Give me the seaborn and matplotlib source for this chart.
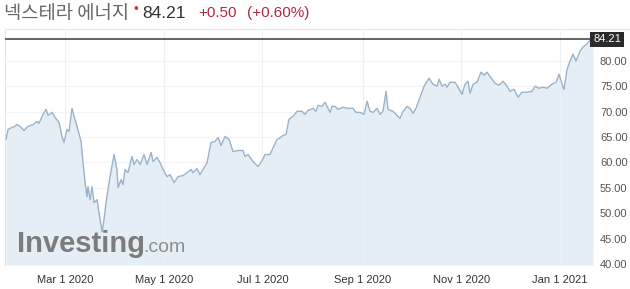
import matplotlib
matplotlib.use("Agg")
import matplotlib.pyplot as plt
import matplotlib.transforms as mtransforms
import seaborn as sns
import numpy as np

# ---- data (days since Mar 1 2020, closing price) ----
days = [-36.5, -35.2, -32.8, -30.9, -29.7, -27.8, -25.3, -22.9, -19.8, -17.3,
        -16.1, -13.6, -11.7, -10.5, -8.0, -6.2, -3.7, -1.9, -0.6, 1.2,
        2.5, 4.3, 5.6, 7.4, 9.9, 11.1, 12.4, 13.6, 14.2, 15.5,
        16.7, 17.9, 19.8, 21.0, 22.9, 24.1, 25.3, 27.8, 30.3, 32.1,
        32.8, 34.6, 35.8, 37.1, 38.9, 41.4, 42.6, 44.5, 46.4, 48.8,
        50.7, 53.2, 54.4, 56.9, 58.7, 60.6, 63.0, 64.9, 67.4, 69.8,
        72.9, 75.4, 77.9, 79.1, 81.6, 83.4, 85.3, 87.8, 90.2, 92.7,
        94.6, 96.4, 98.9, 101.4, 103.8, 106.9, 110.0, 111.2, 113.1, 116.2,
        119.3, 121.8, 123.6, 126.7, 129.2, 131.0, 132.3, 134.7, 136.6, 138.4,
        140.9, 143.4, 146.5, 148.3, 150.2, 153.3, 155.1, 156.4, 158.8, 160.7,
        161.9, 163.8, 165.0, 166.9, 168.7, 171.8, 174.9, 178.0, 179.8, 182.3,
        184.8, 186.7, 188.5, 190.4, 192.8, 194.7, 196.5, 198.4, 199.6, 202.7,
        205.2, 207.0, 208.9, 211.4, 213.2, 215.1, 216.9, 219.4, 221.9, 225.0,
        227.4, 229.9, 231.2, 233.0, 234.9, 236.1, 237.9, 241.0, 242.9, 245.4,
        247.2, 249.1, 250.3, 252.2, 254.6, 257.1, 259.0, 260.8, 263.9, 265.8,
        268.2, 270.7, 273.2, 275.0, 277.5, 280.0, 282.4, 285.5, 288.6, 290.5,
        292.9, 295.4, 297.9, 300.9, 303.5, 305.3, 307.8, 308.4, 310.3, 312.1,
        314.0, 315.8, 318.3, 320.1, 322.6, 324.5, 326.3]

prices = [64.51, 66.48, 66.88, 67.08, 67.47, 67.08, 66.28, 67.08, 67.43, 68.06,
          67.67, 69.45, 70.43, 69.25, 69.84, 68.85, 67.87, 65.10, 63.91, 66.48,
          66.09, 70.63, 69.05, 67.08, 64.11, 59.96, 56.01, 53.24, 55.22, 52.65,
          55.22, 52.06, 52.65, 50.08, 46.32, 48.70, 52.06, 57.19, 61.54, 58.58,
          55.02, 56.60, 55.61, 58.58, 57.98, 61.15, 59.57, 60.55, 59.57, 61.54,
          59.57, 61.94, 60.16, 60.95, 59.96, 58.58, 57.19, 57.59, 56.01, 57.19,
          57.39, 57.98, 58.58, 57.98, 58.77, 57.59, 58.58, 59.96, 63.91, 64.11,
          64.90, 63.32, 65.10, 64.51, 62.13, 62.33, 62.33, 61.15, 61.54, 60.16,
          59.17, 60.36, 61.54, 61.54, 63.32, 64.51, 64.70, 65.30, 65.49, 68.46,
          69.05, 70.04, 70.04, 69.45, 70.24, 70.63, 70.04, 71.23, 71.03, 71.82,
          71.03, 69.84, 71.03, 71.03, 70.43, 70.83, 70.63, 70.63, 69.84, 69.84,
          69.45, 72.02, 70.04, 69.84, 70.63, 69.45, 70.04, 73.99, 70.43, 70.04,
          69.25, 68.66, 70.04, 71.03, 70.63, 69.64, 70.63, 72.81, 74.98, 76.56,
          75.38, 74.98, 76.36, 74.98, 75.38, 74.78, 75.77, 75.77, 74.78, 73.40,
          75.38, 75.97, 73.60, 75.38, 75.77, 77.75, 77.15, 77.75, 76.36, 75.57,
          75.18, 75.97, 74.98, 73.99, 74.39, 72.81, 73.79, 73.79, 73.99, 74.98,
          74.58, 74.78, 74.58, 75.38, 75.77, 77.35, 74.78, 74.39, 78.34, 79.92,
          81.30, 79.92, 81.90, 82.69, 83.28, 84.07, 84.21]

x_tick_days = [0, 61, 122, 184, 245, 306]
x_tick_labels = ["Mar 1 2020", "May 1 2020", "Jul 1 2020", "Sep 1 2020", "Nov 1 2020", "Jan 1 2021"]
y_ticks = [40, 45, 50, 55, 60, 65, 70, 75, 80]

title_name = "넥스테라 에너지"
last_price = 84.21
change_text = "+0.50"
change_pct_text = "(+0.60%)"

# ---- figure ----
sns.set_theme(style="white")
plt.rcParams['font.family'] = ['Liberation Sans', 'DejaVu Sans']

W, H = 630, 289
fig = plt.figure(figsize=(W / 100, H / 100), dpi=100)
ax_left, ax_right, ax_top, ax_bottom = 5, 593, 31, 265
ax = fig.add_axes([ax_left / W, (H - ax_bottom) / H,
                   (ax_right - ax_left) / W, (ax_bottom - ax_top) / H])

ylo, yhi = 39.8, 85.85
sns.lineplot(x=days, y=prices, ax=ax, color="#98b3ca", linewidth=1.0, zorder=3)
ax.fill_between(days, prices, ylo, color="#e5edf5", zorder=1, linewidth=0)

ax.set_xlim(-37.1, 326.3)
ax.set_ylim(ylo, yhi)

# faint grid
for yv in y_ticks:
    ax.axhline(yv, color="#f2f4f6", linewidth=0.8, zorder=0.5)
for xv in x_tick_days:
    ax.axvline(xv, color="#eef1f4", linewidth=0.8, zorder=2)

ax.set_xticks(x_tick_days)
ax.set_xticklabels(x_tick_labels, fontsize=8, color="#333333")
ax.set_yticks(y_ticks)
ax.set_yticklabels([f"{v:.2f}" for v in y_ticks], fontsize=8, color="#555555")
ax.yaxis.tick_right()
ax.tick_params(axis="both", length=0)
ax.tick_params(axis="x", pad=7)
ax.tick_params(axis="y", pad=5)

for s in ["top", "bottom", "right"]:
    ax.spines[s].set_visible(False)
ax.spines["left"].set_color("#e4e4e4")
ax.spines["left"].set_linewidth(0.8)

# current price line and box
ax.axhline(last_price, color="#3a3a3a", linewidth=1.1, zorder=4)
trans = mtransforms.blended_transform_factory(ax.transAxes, ax.transData)
ax.text(1.0, last_price, f"{last_price:.2f}", transform=trans, ha="left", va="center",
        fontsize=8, color="white", zorder=6, clip_on=False,
        bbox=dict(boxstyle="square,pad=0.25", facecolor="#2b2b2b", edgecolor="none"))

# header line
fig.add_artist(plt.Line2D([5 / W, 1.0], [(H - 29) / H, (H - 29) / H],
                          color="#e6e6e6", linewidth=0.8))

# title row
ty = (H - 13) / H
fig.text(4 / W, ty, title_name, fontsize=13.5, color="#666666", va="center",
         family=["Noto Sans CJK KR", "DejaVu Sans"])
fig.text(133 / W, (H - 9) / H, "•", fontsize=10, color="#d0303a", va="center")
fig.text(142 / W, ty, f"{last_price:.2f}", fontsize=12.5, color="#333333", va="center")
fig.text(198 / W, ty, change_text, fontsize=11, color="#b0283c", va="center")
fig.text(247 / W, ty, change_pct_text, fontsize=11, color="#b0283c", va="center")

# watermark
fig.text(17 / W, (H - 252) / H, "Investing", fontsize=21, fontweight="bold",
         color="#7c7c7c", va="baseline", zorder=10)
fig.text(143 / W, (H - 252) / H, ".com", fontsize=14, color="#8e8e8e",
         va="baseline", zorder=10)

fig.savefig("out.png", dpi=100)
